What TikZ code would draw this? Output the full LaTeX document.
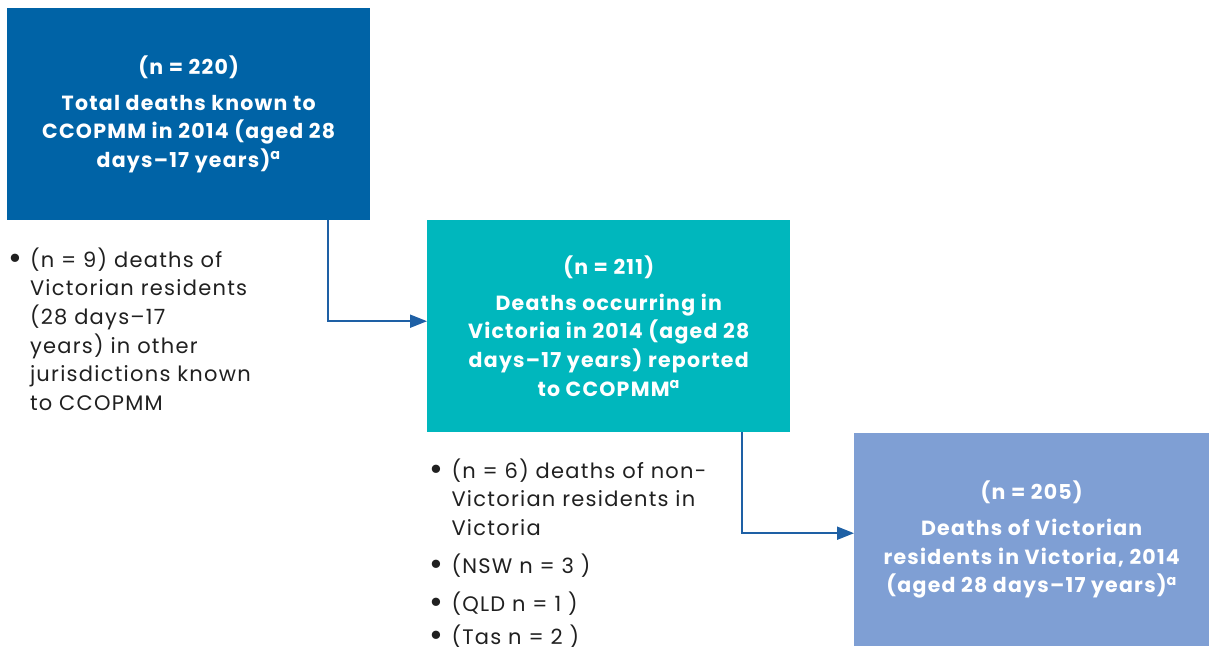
\documentclass[tikz,border=0pt]{standalone}
\usepackage{fontspec}
\setmainfont{Poppins}[LetterSpace=6]
\usetikzlibrary{arrows.meta}
\definecolor{boxA}{RGB}{0,99,166}
\definecolor{boxB}{RGB}{0,183,189}
\definecolor{boxC}{RGB}{127,159,212}
\definecolor{conncol}{RGB}{30,96,165}
\definecolor{txt}{RGB}{32,32,32}
\newcommand{\bigbul}{\raisebox{-2pt}{\scalebox{1.6}{\textbullet}}}
\tikzset{
  box/.style={anchor=north west, inner sep=0pt, text=white, align=center,
    font=\fontsize{20.5}{28.6}\selectfont\bfseries},
  conn/.style={draw=conncol, line width=2pt, -{Triangle[length=17pt,width=13pt]}},
  list/.style={anchor=north west, inner sep=0pt, text=txt,
    font=\fontsize{21}{28.6}\selectfont}
}
\begin{document}
\begin{tikzpicture}[x=1pt,y=-1pt]
\useasboundingbox (0,0) rectangle (1209,646);
\node[box, fill=boxA, minimum width=363pt, minimum height=212pt] (b1) at (7,8) {};
\node[box] (t1) at (b1.center) [anchor=center] {(n = 220)\\[7pt]Total deaths known to\\CCOPMM in 2014 (aged 28\\days--17 years)\textsuperscript{a}};
\node[box, fill=boxB, minimum width=363pt, minimum height=212pt] (b2) at (427,220) {};
\node[box] (t2) at (b2.center) [anchor=center] {(n = 211)\\[7pt]Deaths occurring in\\Victoria in 2014 (aged 28\\days--17 years) reported\\to CCOPMM\textsuperscript{a}};
\node[box, fill=boxC, minimum width=355pt, minimum height=213pt] (b3) at (854,433) {};
\node[box] (t3) at (b3.center) [anchor=center] {(n = 205)\\[7pt]Deaths of Victorian\\residents in Victoria, 2014\\(aged 28 days--17 years)\textsuperscript{a}};

\node[list] (l1) at (8,247) {\begin{tabular}{@{}l@{\hspace{8pt}}l@{}}
\bigbul & (n = 9) deaths of\\
 & Victorian residents\\
 & (28 days--17\\
 & years) in other\\
 & jurisdictions known\\
 & to CCOPMM
\end{tabular}};
\node[list] (l2) at (429,458) {\begin{tabular}{@{}l@{\hspace{8.5pt}}l@{}}
\bigbul & (n = 6) deaths of non-\\
 & Victorian residents in\\
 & Victoria\\[9.5pt]
\bigbul & (NSW n = 3 )\\[9.5pt]
\bigbul & (QLD n = 1 )\\[4pt]
\bigbul & (Tas n = 2 )
\end{tabular}};

\draw[conn] ([xshift=-42pt]b1.south east) |- ([yshift=5pt]b2.west);
\draw[conn] ([xshift=-48pt]b2.south east) |- ([yshift=6.5pt]b3.west);
\end{tikzpicture}
\end{document}
